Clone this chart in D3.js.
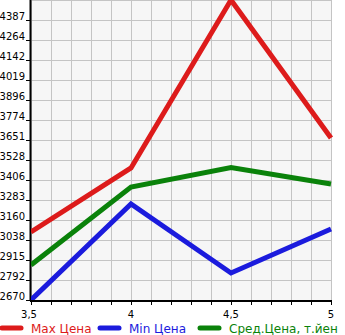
<!DOCTYPE html>
<html><head><meta charset="utf-8">
<script src="https://cdn.jsdelivr.net/npm/d3@7/dist/d3.min.js"></script>
<style>body{margin:0;background:#fff;}svg{display:block;font-family:"DejaVu Sans",sans-serif;}</style>
</head><body>
<script>
const xValues = [3.5, 4, 4.5, 5];
const maxPrice = [3087, 3480, 4510, 3664];
const minPrice = [2670, 3259, 2836, 3105];
const avgPrice = [2885, 3363, 3483, 3381];
const yTickLabels = ["2670","2792","2915","3038","3160","3283","3406","3528","3651","3774","3896","4019","4142","4264","4387"];
const xTickLabels = ["3,5","4","4,5","5"];
const seriesNames = ["Max Цена","Min Цена","Сред.Цена, т.йен"];
const colors = ["#dd1b1b","#1b1bdd","#0a820a"];

(function(){
const W = 345, H = 335;
const pL = 31, pR = 331, pT = 0, pB = 300;
const svg = d3.select("body").append("svg").attr("width", W).attr("height", H);

const x = d3.scaleLinear().domain([3.5, 5]).range([pL, pR]);
const y = d3.scaleLinear().domain([2670, 4510]).range([pB, pT]);

svg.append("rect").attr("x", pL).attr("y", pT).attr("width", pR-pL).attr("height", pB-pT).attr("fill", "#f6f6f6");

const xMinor = d3.range(0, 16).map(i => 3.5 + i*0.1);
svg.append("g").selectAll("line").data(xMinor).join("line")
  .attr("x1", d => Math.round(x(d))+0.5).attr("x2", d => Math.round(x(d))+0.5)
  .attr("y1", pT).attr("y2", pB).attr("stroke", "#c4c4c4").attr("stroke-width", 1);
const yTicks = d3.range(0, 16).map(i => 2670 + i*(4510-2670)/15);
svg.append("g").selectAll("line").data(yTicks).join("line")
  .attr("x1", pL).attr("x2", pR)
  .attr("y1", d => Math.round(y(d))+0.5).attr("y2", d => Math.round(y(d))+0.5)
  .attr("stroke", "#c4c4c4").attr("stroke-width", 1);

const yg = svg.append("g");
yTickLabels.forEach((t, i) => {
  const yy = Math.round(y(yTicks[i]));
  yg.append("line").attr("x1", pL-5).attr("x2", pL).attr("y1", yy+0.5).attr("y2", yy+0.5).attr("stroke", "#000");
  yg.append("text").attr("x", 25).attr("y", yy).attr("text-anchor", "end")
    .attr("font-size", 10).attr("fill", "#000").text(t);
});
const xg = svg.append("g");
xMinor.forEach(d => {
  const xx = Math.round(x(d));
  xg.append("line").attr("x1", xx+0.5).attr("x2", xx+0.5).attr("y1", pB).attr("y2", pB+5).attr("stroke", "#000");
});
xValues.forEach((d, i) => {
  xg.append("text").attr("x", Math.min(x(d) - (i===0?2:0), W-6)).attr("y", pB+18).attr("text-anchor", "middle")
    .attr("font-size", 10).attr("fill", "#000").text(xTickLabels[i]);
});

svg.append("line").attr("x1", pL-0.5).attr("x2", pL-0.5).attr("y1", pT).attr("y2", pB+1).attr("stroke", "#000").attr("stroke-width", 2);
svg.append("line").attr("x1", pL-1).attr("x2", pR+1).attr("y1", pB+1).attr("y2", pB+1).attr("stroke", "#000").attr("stroke-width", 2);

const line = d3.line().x((d, i) => x(xValues[i])).y(d => y(d));
svg.append("clipPath").attr("id", "c").append("rect").attr("x", pL).attr("y", pT).attr("width", pR-pL+3).attr("height", pB-pT);
[maxPrice, minPrice, avgPrice].forEach((s, k) => {
  svg.append("path").datum(s).attr("d", line).attr("fill", "none")
    .attr("stroke", colors[k]).attr("stroke-width", 5).attr("stroke-linejoin", "miter")
    .attr("clip-path", "url(#c)");
});

const legX = [0, 98, 198];
seriesNames.forEach((n, k) => {
  svg.append("line").attr("x1", legX[k]+2).attr("x2", legX[k]+21).attr("y1", 328).attr("y2", 328)
    .attr("stroke", colors[k]).attr("stroke-width", 5).attr("stroke-linecap", "round");
  svg.append("text").attr("x", legX[k]+31).attr("y", 333).attr("font-size", 12)
    .attr("fill", colors[k]).text(n);
});
})();
</script>
</body></html>
